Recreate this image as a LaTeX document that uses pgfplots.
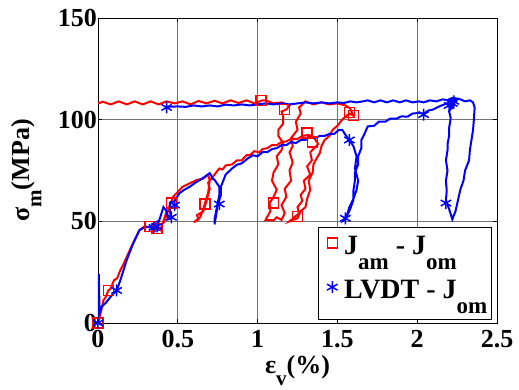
\documentclass[border=0pt]{standalone}
\usepackage{fontspec}
\setmainfont{Liberation Serif}
\usepackage{pgfplots}
\pgfplotsset{compat=1.18}
\newcommand\sub[1]{\raisebox{-0.45em}{\fontsize{21}{21}\selectfont #1}}
\newcommand\lsub[1]{\raisebox{-0.55em}{\fontsize{23}{23}\selectfont #1}}
\begin{document}
\begin{tikzpicture}
\begin{axis}[
  name=ax,
  width=399pt, height=305pt, scale only axis,
  xmin=0, xmax=2.5, ymin=0, ymax=150,
  xtick={0,0.5,1,1.5,2,2.5}, ytick={0,50,100,150},
  /pgf/number format/assume math mode=true,
  ticklabel style={font=\fontsize{26}{28}\selectfont\bfseries},
  xticklabel style={inner sep=1pt, yshift=-6pt},
  yticklabel style={inner sep=1pt},
  label style={font=\fontsize{26}{28}\selectfont\bfseries},
  xlabel={ε\sub{v}(\%)},
  ylabel={σ\sub{m}(MPa)},
  xlabel style={yshift=-3pt},
  ylabel style={yshift=12pt},
  grid=major,
  major grid style={black!55, line width=0.6pt},
  tick align=inside, major tick length=4pt,
  axis line style={line width=0.8pt},
  every tick/.style={black, line width=0.6pt},
  legend style={at={(axis cs:2.467,1.7)}, anchor=south east, draw=black, line width=0.8pt,
    font=\fontsize{28}{30}\selectfont\bfseries, row sep=0pt, inner sep=2pt,
    nodes={text height=23pt, text depth=17pt, inner sep=2pt}},
  legend image code/.code={\path (0,0) (0.72cm,0); \draw[#1] plot coordinates {(0.4cm,8pt)};},
  legend cell align=left,
]
\coordinate (bl) at (rel axis cs:0,0);
\coordinate (tr) at (rel axis cs:1,1);
% red line
\addplot[red, line width=2pt, forget plot] coordinates {
(0,0) (0.01,3) (0.02,6) (0.033,11) (0.05,13) (0.065,16) (0.08,17) (0.1,21) (0.12,22) (0.14,26) (0.16,29) (0.2,36) (0.23,41) (0.26,45.7) (0.29,47.4) (0.32,47) (0.35,47.5) (0.39,45.7) (0.41,50) (0.43,55) (0.41,49) (0.43,53) (0.45,58) (0.47,62) (0.5,64.5) (0.53,67) (0.57,68.5) (0.62,70.4) (0.66,71) (0.69,73) (0.7,70) (0.69,64) (0.67,59) (0.66,56) (0.64,52) (0.6,49.5) (0.63,51) (0.62,53) (0.66,55) (0.68,60) (0.7,66) (0.69,69) (0.72,72) (0.74,74) (0.76,76) (0.78,75.5) (0.8,77.5) (0.84,78) (0.87,80) (0.9,80) (0.93,82.5) (0.95,82.5) (0.98,84.5) (1.01,84) (1.03,85.5) (1.06,86) (1.09,87.5) (1.12,87.5) (1.15,89) (1.18,89.3) (1.21,90.5) (1.25,90.5) (1.28,92) (1.32,92.5) (1.35,91.5) (1.38,88)
(1.33,84) (1.34,80) (1.31,77) (1.33,73) (1.29,70) (1.3,66) (1.27,63) (1.28,60) (1.25,57) (1.26,54) (1.2,50) (1.25,51.5) (1.27,55) (1.3,57) (1.31,61) (1.33,65.5) (1.32,70) (1.345,74) (1.35,78) (1.37,81) (1.39,83.6) (1.4,87) (1.42,90) (1.45,92) (1.47,95) (1.5,97) (1.53,100) (1.55,101.5) (1.575,103) (1.6,102) (1.58,105.5) (1.55,107) (1.5,108) (1.45,107.5) (1.4,108.5) (1.35,107.5) (1.3,109) (1.26,106) (1.27,103)
(1.24,99) (1.25,95) (1.21,91) (1.22,87) (1.2,84) (1.22,79) (1.2,75) (1.21,70) (1.17,66) (1.18,62) (1.15,58) (1.17,54) (1.15,50.7) (1.12,52) (1.1,50.5) (1.05,50.7) (1.08,55) (1.075,59) (1.1,62) (1.12,65.5) (1.09,70) (1.1,74) (1.13,78) (1.12,82) (1.15,85) (1.16,88.6) (1.13,92) (1.13,95) (1.16,98) (1.16,101.6) (1.15,104) (1.18,105) (1.2,107) (1.15,108.5) (1.1,108) (1.05,109.5) (1.03,109.5)
(0.98,108) (0.93,109.5) (0.88,108.2) (0.83,109.5) (0.78,108) (0.73,109.3) (0.68,108) (0.63,109.2) (0.58,107.5) (0.53,109) (0.48,108) (0.43,109) (0.38,107.5) (0.33,109) (0.28,107.5) (0.23,109) (0.18,107.5) (0.13,109) (0.08,107.5) (0.03,108.8) (0,108)
};
% blue line
\addplot[blue, line width=2pt, forget plot] coordinates {
(0,0) (0.005,24) (0.01,5) (0.023,8) (0.05,10) (0.08,13) (0.117,16) (0.14,21) (0.16,26) (0.18,31) (0.22,39) (0.26,45.7) (0.3,47.4) (0.34,47) (0.37,47.4) (0.39,52) (0.41,57) (0.43,55) (0.44,51) (0.46,51.5) (0.45,55) (0.45,59) (0.48,60) (0.51,63.8) (0.54,65.5) (0.575,67) (0.61,69) (0.64,70.4) (0.67,72) (0.7,73.7) (0.72,71) (0.73,70.4) (0.76,67) (0.76,63) (0.75,59) (0.74,55) (0.73,51) (0.73,48.5) (0.74,53) (0.75,58) (0.77,63) (0.77,67) (0.8,73) (0.84,76) (0.87,77.8) (0.9,78.5) (0.94,81) (0.97,82.5) (1.0,82) (1.03,84) (1.06,84) (1.09,85.5) (1.12,86) (1.15,87.5) (1.18,87.5) (1.21,89) (1.24,88.5) (1.27,90) (1.3,90) (1.33,91.5) (1.36,91) (1.39,92) (1.42,92) (1.45,93) (1.48,93) (1.51,95) (1.53,95) (1.555,92) (1.575,90) (1.6,87) (1.62,82) (1.61,76) (1.63,70) (1.62,65.5) (1.6,61) (1.575,57) (1.56,53) (1.54,50.5) (1.55,51) (1.58,56) (1.6,60.5) (1.6,65) (1.61,70) (1.61,74) (1.63,78) (1.63,82) (1.65,86) (1.65,90) (1.67,93) (1.69,96.7) (1.73,97) (1.76,99) (1.8,99) (1.83,100.5) (1.87,100.5) (1.9,101.6) (1.94,101.5) (1.97,103) (2.01,103.3) (2.04,103) (2.07,104.5) (2.1,105) (2.14,106.6) (2.17,107.5) (2.2,108.5) (2.22,110) (2.25,110) (2.22,107) (2.2,104) (2.21,100.8) (2.2,96) (2.2,92) (2.19,88) (2.19,85) (2.18,80) (2.19,75) (2.18,70) (2.185,65) (2.18,60.5) (2.2,56) (2.22,51) (2.24,55) (2.26,62) (2.27,65.5) (2.29,70) (2.3,75) (2.325,80) (2.33,85) (2.34,90) (2.35,95) (2.355,100) (2.36,106) (2.35,108.5) (2.33,109.5) (2.3,109) (2.27,110) (2.24,110.5) (2.22,110.7) (2.19,109.5) (2.16,110) (2.12,109) (2.08,109.5) (2.04,108.5) (2.01,109) (1.97,108.5) (1.93,109.5) (1.89,108.5) (1.85,109.5) (1.81,108.5) (1.77,109.5) (1.73,108.5) (1.69,109.5) (1.66,109) (1.62,108.5) (1.58,109) (1.54,108.2) (1.5,108.5) (1.45,108) (1.4,108.5) (1.35,108) (1.3,108.5) (1.25,108) (1.2,107.5) (1.15,108) (1.1,107.5) (1.05,108) (1.0,107.5) (0.95,107) (0.9,107.5) (0.85,107) (0.8,107.4) (0.75,106.5) (0.7,107) (0.65,106.5) (0.6,107) (0.55,106.3) (0.5,106.5) (0.45,106.4) (0.42,106)
};
% markers
\addplot[only marks, red, mark=square, mark size=5pt, line width=1.5pt] coordinates {
(0,0) (0.065,16) (0.325,47.4) (0.37,46.5) (0.46,59) (0.67,58.5) (1.02,109.5) (1.17,105) (1.1,59) (1.25,52.3) (1.31,93.5) (1.345,89) (1.575,103.4) (1.6,102)
};
\addlegendentry{J\lsub{am} - J\lsub{om}}
\addplot[only marks, blue, mark=asterisk, mark size=6pt, line width=1.5pt] coordinates {
(0,0) (0.117,16) (0.35,47) (0.37,47.5) (0.46,52) (0.48,58) (0.76,58.5) (0.43,106) (1.55,51.5) (1.575,90) (2.04,102.5) (2.18,59) (2.2,107) (2.23,109) (2.22,108)
};
\addlegendentry{LVDT - J\lsub{om}}
\end{axis}
\pgfresetboundingbox
\path ([shift={(-98pt,-67pt)}]bl) rectangle ([shift={(22pt,18pt)}]tr);
\end{tikzpicture}
\end{document}
